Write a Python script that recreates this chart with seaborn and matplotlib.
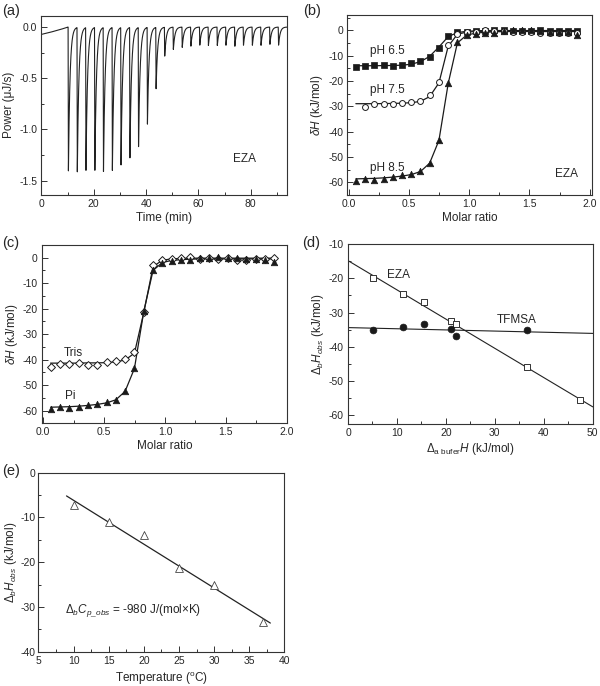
import numpy as np
import pandas as pd
import matplotlib
matplotlib.use("Agg")
import matplotlib.pyplot as plt
from matplotlib.ticker import MultipleLocator, FormatStrFormatter
import seaborn as sns

sns.set_theme(style="ticks")
plt.rcParams['font.family'] = ['Liberation Sans', 'DejaVu Sans']
plt.rcParams['mathtext.fontset'] = 'custom'
plt.rcParams['mathtext.rm'] = 'Liberation Sans'
plt.rcParams['mathtext.it'] = 'Liberation Sans:italic'
plt.rcParams['mathtext.bf'] = 'Liberation Sans:bold'
plt.rcParams['axes.unicode_minus'] = False

# ---- (a) raw ITC thermogram: injection times and peak depths
inj_time = [10.2, 13.6, 16.9, 20.3, 23.6, 27.0, 30.3, 33.7, 37.0, 40.4, 43.7, 47.0,
            50.3, 53.7, 57.0, 60.4, 63.7, 67.1, 70.4, 73.8, 77.1, 80.5, 83.8, 87.2, 90.5]
inj_depth = [-1.42, -1.43, -1.43, -1.43, -1.42, -1.41, -1.37, -1.30, -1.17, -0.95, -0.61,
             -0.29, -0.22, -0.20, -0.19, -0.18, -0.18, -0.18, -0.18, -0.19, -0.18, -0.18,
             -0.18, -0.17, -0.18]
pre_time = [0, 2, 4, 6, 8, 10.2]
pre_power = [-0.072, -0.060, -0.047, -0.033, -0.018, 0.0]

# ---- (b) titration isotherms of EZA at three pH values
molar_ratio = [0.060, 0.137, 0.213, 0.290, 0.366, 0.443, 0.520, 0.596, 0.672, 0.749,
               0.826, 0.902, 0.979, 1.055, 1.132, 1.208, 1.285, 1.362, 1.438, 1.515,
               1.591, 1.668, 1.745, 1.821, 1.898]
ph65 = [-14.6, -14.1, -13.8, -13.8, -14.0, -13.9, -13.0, -12.3, -10.6, -7.0, -2.3, -0.8,
        -0.5, -0.4, -0.2, 0.0, 0.0, -0.2, -0.1, -0.2, 0.0, -0.2, -0.3, -0.1, -0.4]
ph65_fit = [-14.0, -14.0, -14.0, -13.95, -13.9, -13.8, -13.4, -12.4, -10.3, -6.6, -2.5,
            -0.9, -0.4, -0.2, -0.1, -0.1, -0.1, -0.1, -0.1, -0.1, -0.1, -0.1, -0.1, -0.1, -0.1]
ph75 = [-30.2, -29.3, -29.3, -29.0, -28.8, -28.4, -27.8, -25.7, -20.6, -6.0, -1.5, -0.5,
        -0.5, 0.0, -0.2, -0.3, -0.5, -0.6, -0.8, -0.9, -1.0, -1.0, -1.2, -1.0]  # from 2nd injection
ph75_fit = [-29.0, -29.0, -29.0, -28.95, -28.9, -28.8, -28.6, -28.1, -26.2, -20.8, -6.3,
            -1.6, -0.7, -0.5, -0.4, -0.4, -0.4, -0.4, -0.4, -0.4, -0.4, -0.4, -0.4, -0.4, -0.4]
ph85 = [-59.5, -58.7, -59.0, -58.7, -58.0, -57.3, -56.8, -55.7, -52.3, -43.5, -21.0, -4.8,
        -2.0, -1.3, -1.0, -1.0, -0.3, 0.0, 0.3, 0.0, -0.3, -0.5, -0.6, -0.8, -1.8]
ph85_fit = [-58.7, -58.6, -58.5, -58.3, -58.0, -57.6, -57.0, -55.8, -52.5, -43.5, -21.0,
            -5.0, -1.9, -1.1, -0.8, -0.6, -0.5, -0.5, -0.5, -0.5, -0.5, -0.5, -0.5, -0.5, -0.5]

# ---- (c) Tris vs phosphate buffer
tris = [-43.0, -41.7, -41.7, -41.4, -42.2, -42.3, -41.0, -40.6, -39.8, -37.0, -21.5, -2.8,
        -0.8, -0.4, -0.1, 0.3, -0.5, 0.0, -0.5, -0.3, -0.8, -0.8, -0.4, -0.5, 0.0]
tris_fit = [-41.4, -41.4, -41.4, -41.4, -41.3, -41.3, -41.2, -40.9, -40.2, -37.5, -21.5,
            -3.5, -1.0, -0.5, -0.3, -0.2, -0.2, -0.2, -0.2, -0.2, -0.2, -0.2, -0.2, -0.2, -0.2]

# ---- (d) observed enthalpy vs buffer ionization enthalpy
buffer_dh = [5.1, 11.3, 15.5, 21.0, 22.1, 36.6, 47.4]
eza_dh = [-20.0, -24.5, -26.9, -32.4, -33.3, -45.9, -55.7]
tfmsa_buffer_dh = [5.1, 11.3, 15.5, 21.0, 22.1, 36.6]
tfmsa_dh = [-35.2, -34.1, -33.4, -34.9, -36.9, -35.2]
fit_x_d = [0, 50]
eza_fit = [-14.8, -57.6]
tfmsa_fit = [-34.4, -36.1]

# ---- (e) temperature dependence
temperature = [10, 15, 20, 25, 30, 37]
dh_temp = [-7.3, -11.0, -13.9, -21.4, -25.1, -33.3]
fit_x_e = [9.0, 38.0]
fit_y_e = [-5.2, -33.6]

fig = plt.figure(figsize=(6, 6.86), dpi=100)
ax_a = fig.add_axes([0.069, 0.716, 0.410, 0.261])
ax_b = fig.add_axes([0.579, 0.716, 0.408, 0.262])
ax_c = fig.add_axes([0.070, 0.383, 0.408, 0.260])
ax_d = fig.add_axes([0.580, 0.382, 0.408, 0.262])
ax_e = fig.add_axes([0.064, 0.050, 0.410, 0.261])

TICK = 7.5
LAB = 8.5


def style_axis(ax, xmaj, xmin, ymaj, ymin):
    for s in ax.spines.values():
        s.set_linewidth(0.8)
        s.set_color('#333333')
        s.set_visible(True)
    ax.xaxis.set_major_locator(MultipleLocator(xmaj))
    ax.xaxis.set_minor_locator(MultipleLocator(xmin))
    ax.yaxis.set_major_locator(MultipleLocator(ymaj))
    ax.yaxis.set_minor_locator(MultipleLocator(ymin))
    ax.tick_params(which='both', direction='in', top=False, right=False,
                   labelsize=TICK, color='#333333', width=0.7)
    ax.tick_params(which='major', length=4, pad=3)
    ax.tick_params(which='minor', length=2)


# (a) build the trace from the injection table
t = np.linspace(0, 94, 6000)
power = np.interp(t, pre_time, pre_power)
tau, drop = 0.6, 0.12
for i, (ti, di) in enumerate(zip(inj_time, inj_depth)):
    t_end = inj_time[i + 1] if i + 1 < len(inj_time) else 94.1
    m = (t >= ti) & (t < t_end)
    dt = t[m] - ti
    shape = np.where(dt < drop, dt / drop, np.exp(-(dt - drop) / tau))
    power[m] = di * shape
trace = pd.DataFrame({"Time": t, "Power": power})
sns.lineplot(data=trace, x="Time", y="Power", ax=ax_a, color='#222222', lw=0.8,
             estimator=None, sort=False)
ax_a.set_xlim(0, 94)
ax_a.set_ylim(-1.64, 0.11)
style_axis(ax_a, 20, 10, 0.5, 0.25)
ax_a.yaxis.set_major_formatter(FormatStrFormatter('%.1f'))
ax_a.set_xlabel('Time (min)', fontsize=LAB, labelpad=2)
ax_a.set_ylabel('Power (μJ/s)', fontsize=LAB, labelpad=3)
ax_a.text(77.5, -1.29, 'EZA', fontsize=LAB, ha='center', va='center')

# (b)
mr = np.array(molar_ratio)
for fit in (ph65_fit, ph75_fit, ph85_fit):
    sns.lineplot(x=mr, y=fit, ax=ax_b, color='k', lw=0.9, estimator=None, sort=False)
sns.scatterplot(x=mr, y=ph65, ax=ax_b, marker='s', s=15, color='k', edgecolor='k',
                linewidth=0.5, zorder=3)
sns.scatterplot(x=mr[1:], y=ph75, ax=ax_b, marker='o', s=18, color='white',
                edgecolor='k', linewidth=0.7, zorder=3)
sns.scatterplot(x=mr, y=ph85, ax=ax_b, marker='^', s=22, color='k', edgecolor='k',
                linewidth=0.5, zorder=3)
ax_b.set_xlim(-0.01, 2.02)
ax_b.set_ylim(-65, 6)
style_axis(ax_b, 0.5, 0.25, 10, 5)
ax_b.xaxis.set_major_formatter(FormatStrFormatter('%.1f'))
ax_b.set_xlabel('Molar ratio', fontsize=LAB, labelpad=2)
ax_b.set_ylabel(r'$\delta H$ (kJ/mol)', fontsize=LAB, labelpad=2)
ax_b.text(0.32, -8.3, 'pH 6.5', fontsize=LAB, ha='center', va='center')
ax_b.text(0.32, -23.7, 'pH 7.5', fontsize=LAB, ha='center', va='center')
ax_b.text(0.32, -54.3, 'pH 8.5', fontsize=LAB, ha='center', va='center')
ax_b.text(1.81, -56.6, 'EZA', fontsize=LAB, ha='center', va='center')

# (c)
for fit in (tris_fit, ph85_fit):
    sns.lineplot(x=mr, y=fit, ax=ax_c, color='k', lw=0.9, estimator=None, sort=False)
sns.scatterplot(x=mr, y=tris, ax=ax_c, marker='D', s=16, color='white',
                edgecolor='k', linewidth=0.7, zorder=3)
sns.scatterplot(x=mr, y=ph85, ax=ax_c, marker='^', s=22, color='k', edgecolor='k',
                linewidth=0.5, zorder=3)
ax_c.set_xlim(-0.01, 2.0)
ax_c.set_ylim(-65, 5)
style_axis(ax_c, 0.5, 0.25, 10, 5)
ax_c.xaxis.set_major_formatter(FormatStrFormatter('%.1f'))
ax_c.set_xlabel('Molar ratio', fontsize=LAB, labelpad=2)
ax_c.set_ylabel(r'$\delta H$ (kJ/mol)', fontsize=LAB, labelpad=2)
ax_c.text(0.25, -37.4, 'Tris', fontsize=LAB, ha='center', va='center')
ax_c.text(0.22, -54.4, 'Pi', fontsize=LAB, ha='center', va='center')

# (d)
sns.lineplot(x=fit_x_d, y=eza_fit, ax=ax_d, color='#222222', lw=0.8, estimator=None)
sns.lineplot(x=fit_x_d, y=tfmsa_fit, ax=ax_d, color='#222222', lw=0.8, estimator=None)
sns.scatterplot(x=buffer_dh, y=eza_dh, ax=ax_d, marker='s', s=20, color='white',
                edgecolor='#333333', linewidth=0.7, zorder=3)
sns.scatterplot(x=tfmsa_buffer_dh, y=tfmsa_dh, ax=ax_d, marker='o', s=24, color='k',
                edgecolor='k', linewidth=0.5, zorder=3)
ax_d.set_xlim(0, 50)
ax_d.set_ylim(-62.6, -10)
style_axis(ax_d, 10, 5, 10, 5)
ax_d.set_xlabel(r'$\Delta_{\mathrm{a\ bufer}}H$ (kJ/mol)', fontsize=LAB, labelpad=2)
ax_d.set_ylabel(r'$\Delta_b H_{obs}$ (kJ/mol)', fontsize=LAB, labelpad=2)
ax_d.text(10.3, -18.9, 'EZA', fontsize=LAB, ha='center', va='center')
ax_d.text(34.4, -32.2, 'TFMSA', fontsize=LAB, ha='center', va='center')

# (e)
sns.lineplot(x=fit_x_e, y=fit_y_e, ax=ax_e, color='#222222', lw=0.9, estimator=None)
sns.scatterplot(x=temperature, y=dh_temp, ax=ax_e, marker='^', s=32, color='white',
                edgecolor='#444444', linewidth=0.6, zorder=3)
ax_e.set_xlim(5, 40)
ax_e.set_ylim(-40, 0)
style_axis(ax_e, 5, 2.5, 10, 5)
ax_e.tick_params(axis='y', which='major', pad=2)
ax_e.set_xlabel(r'Temperature ($^{\mathrm{o}}$C)', fontsize=LAB, labelpad=3)
ax_e.set_ylabel(r'$\Delta_b H_{obs}$ (kJ/mol)', fontsize=LAB, labelpad=1)
ax_e.text(8.8, -30.9, r'$\Delta_b C_{p\_obs}$ = -980 J/(mol×K)', fontsize=LAB,
          ha='left', va='center')

for lab, (x, y) in zip(['(a)', '(b)', '(c)', '(d)', '(e)'],
                       [(0.003, 0.994), (0.505, 0.994), (0.003, 0.656),
                        (0.503, 0.656), (0.003, 0.324)]):
    fig.text(x, y, lab, fontsize=10.5, ha='left', va='top')

fig.savefig('out.png', dpi=100)
